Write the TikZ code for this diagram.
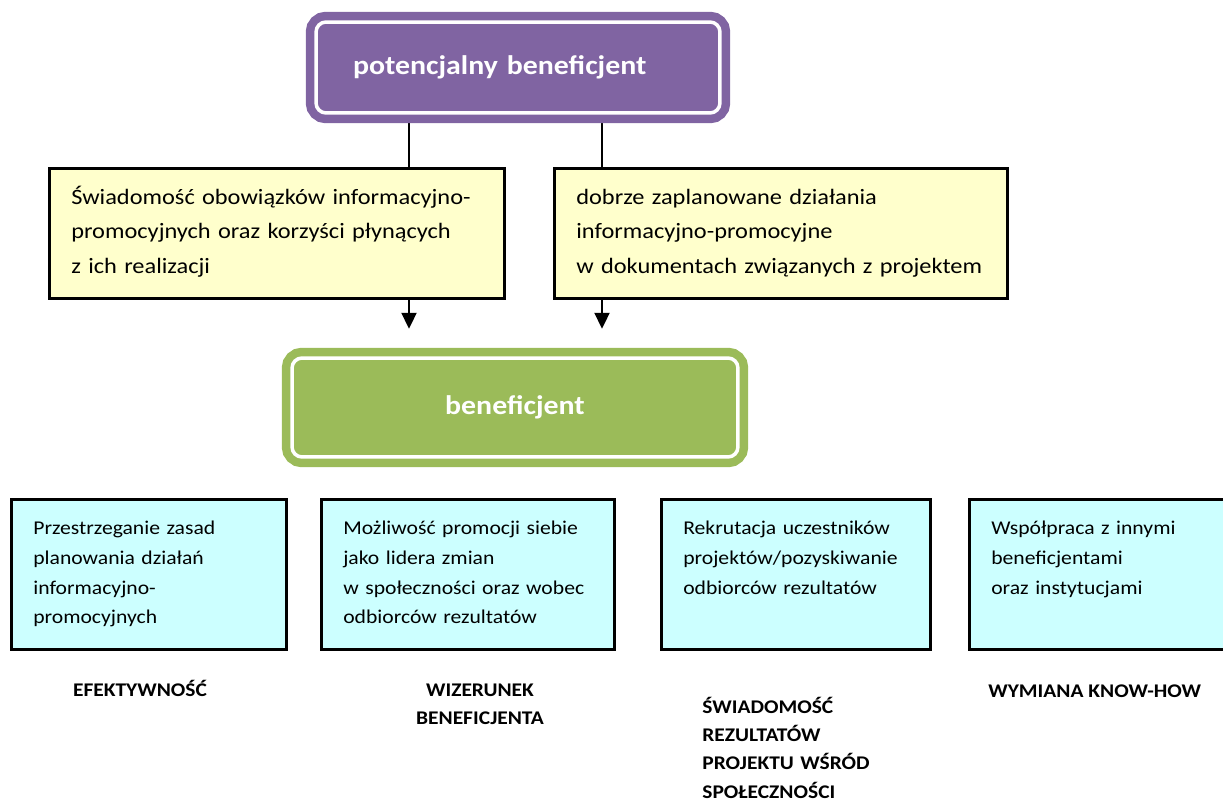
\documentclass[tikz,border=0pt]{standalone}
\usepackage{fontspec}
\setmainfont{Carlito}[FakeStretch=1.11]
\usetikzlibrary{arrows.meta, positioning, backgrounds}

\definecolor{purp}{RGB}{128,100,162}
\definecolor{leafgreen}{RGB}{155,187,89}
\definecolor{paleyellow}{RGB}{255,255,204}
\definecolor{palecyan}{RGB}{204,255,255}

\begin{document}
\begin{tikzpicture}[
    x=0.02cm, y=-0.02cm,
    headbox/.style={rectangle, rounded corners=0.2cm, fill=#1, draw=#1, double=white, double distance=0.07cm, line width=0.17cm, text=white, font=\fontsize{15.3pt}{18pt}\selectfont\bfseries},
    notebox/.style={rectangle, draw, line width=1.5pt, fill=paleyellow, anchor=north west, align=left, text width=#1, inner xsep=0.44cm, inner ysep=0.1cm, text height=0.62cm, text depth=1.78cm, font=\fontsize{12.5pt}{19.6pt}\selectfont},
    gainbox/.style={rectangle, draw, line width=1.5pt, fill=palecyan, anchor=north west, align=left, text width=#1, inner xsep=0.44cm, inner ysep=0.1cm, text height=0.6cm, text depth=2.2cm, font=\fontsize{11.1pt}{17pt}\selectfont},
    effect/.style={inner sep=0pt, font=\fontsize{11pt}{16.2pt}\selectfont\bfseries},
    link/.style={line width=1.3pt},
    arrow/.style={link, -{Triangle[length=0.32cm, width=0.3cm]}}
]
\useasboundingbox (0,0) rectangle (1223,803);
\clip (0,0) rectangle (1223,803);

% Top
\node[headbox=purp, minimum height=1.82cm, inner xsep=0.74cm, text width=6.6cm, align=left] (pot) at (518,67.5) {potencjalny beneficjent};

% Conditions
\node[notebox=8.22cm] (aware) at (48,167) {Świadomość obowiązków informacyjno-\\promocyjnych oraz korzyści płynących\\z ich realizacji};
\node[notebox=8.18cm] (plan) at (553,167) {dobrze zaplanowane działania\\informacyjno-promocyjne\\w dokumentach związanych z projektem};

% Middle
\node[headbox=leafgreen, minimum width=8.92cm, minimum height=1.98cm] (benef) at (515,407.5) {beneficjent};

% Gains
\node[gainbox=4.62cm] (rules) at (10,498) {Przestrzeganie zasad\\planowania działań\\informacyjno-\\promocyjnych};
\node[gainbox=4.98cm] (image) at (320,498) {Możliwość promocji siebie\\jako lidera zmian\\w społeczności oraz wobec\\odbiorców rezultatów};
\node[gainbox=4.5cm] (recruit) at (660,498) {Rekrutacja uczestników\\projektów/pozyskiwanie\\odbiorców rezultatów};
\node[gainbox=4.72cm] (coop) at (968,498) {Współpraca z innymi\\beneficjentami\\oraz instytucjami};

% Effects
\node[effect, anchor=base] (effL) at (140,696) {EFEKTYWNOŚĆ};
\node[effect, anchor=base, align=center, text width=3cm] (imgL) at (480,696) {WIZERUNEK\\BENEFICJENTA};
\node[effect, anchor=base west, align=left, text width=4cm] (awL) at (702,713) {ŚWIADOMOŚĆ\\REZULTATÓW\\PROJEKTU WŚRÓD\\SPOŁECZNOŚCI};
\node[effect, anchor=base west] (kwL) at (988,697) {WYMIANA KNOW-HOW};

% Connections
\coordinate (jA) at (409,0);
\coordinate (jB) at (602,0);
\begin{scope}[on background layer]
\draw[link] (pot.south -| jA) -- (aware.north -| jA);
\draw[link] (pot.south -| jB) -- (plan.north -| jB);
\draw[arrow, shorten >=0.5cm] (aware.south -| jA) -- (benef.north -| jA);
\draw[arrow, shorten >=0.5cm] (plan.south -| jB) -- (benef.north -| jB);
\end{scope}

\end{tikzpicture}
\end{document}
